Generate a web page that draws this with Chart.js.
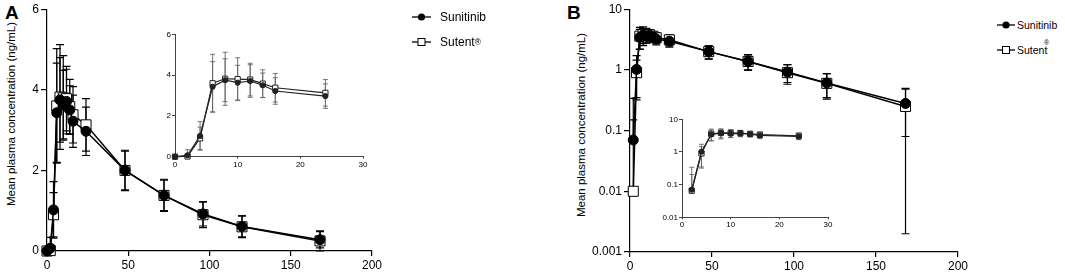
<!DOCTYPE html>
<html>
<head>
<meta charset="utf-8">
<script src="https://cdn.jsdelivr.net/npm/chart.js@4.4.1/dist/chart.umd.min.js"></script>
<style>
  body { margin: 0; width: 1065px; height: 272px; position: relative; overflow: hidden; background: #fff;
         font-family: "Liberation Sans", Arial, sans-serif; color: #000; }
  canvas, .abs { position: absolute; }
  .panel { font-weight: bold; font-size: 19px; line-height: 1; }
  .ytitle { font-size: 11.5px; white-space: nowrap; transform: translate(-50%, -50%) rotate(-90deg); }
  .leg { display: flex; align-items: center; white-space: nowrap; line-height: 1; }
  .leg svg { margin-right: 9px; }
  sup { font-size: 0.7em; }
</style>
</head>
<body>
<div class="abs panel" style="left:5px; top:3px;">A</div>
<div class="abs panel" style="left:567px; top:3px;">B</div>
<div class="abs ytitle" style="left:11px; top:114px;">Mean plasma concentration (ng/mL)</div>
<div class="abs ytitle" style="left:581px; top:125px;">Mean plasma concentration (ng/mL)</div>

<canvas id="mainA" width="400" height="272" style="left:0; top:0;"></canvas>
<canvas id="insetA" width="230" height="150" style="left:150px; top:20px;"></canvas>
<canvas id="mainB" width="420" height="272" style="left:570px; top:0;"></canvas>
<canvas id="insetB" width="190" height="125" style="left:655px; top:105px;"></canvas>

<div class="abs leg" style="left:412px; top:11px; font-size:12px;">
  <svg width="19" height="10"><line x1="0" y1="5" x2="19" y2="5" stroke="#000" stroke-width="1.3"/><circle cx="9.5" cy="5" r="3.6" fill="#000"/></svg>Sunitinib
</div>
<div class="abs leg" style="left:412px; top:36px; font-size:12px;">
  <svg width="19" height="10"><line x1="0" y1="5" x2="19" y2="5" stroke="#000" stroke-width="1.3"/><rect x="6" y="1.5" width="7" height="7" fill="#fff" stroke="#000" stroke-width="1"/></svg>Sutent<sup>®</sup>
</div>
<div class="abs leg" style="left:997px; top:20px; font-size:10.5px;">
  <svg width="18" height="10" style="margin-right:2px"><line x1="0" y1="5" x2="18" y2="5" stroke="#000" stroke-width="1.3"/><circle cx="9" cy="5" r="3.6" fill="#000"/></svg>Sunitinib
</div>
<div class="abs leg" style="left:997px; top:45px; font-size:10.5px;">
  <svg width="18" height="10" style="margin-right:2px"><line x1="0" y1="5" x2="18" y2="5" stroke="#000" stroke-width="1.3"/><rect x="5.5" y="1.5" width="7" height="7" fill="#fff" stroke="#000" stroke-width="1"/></svg>Sutent
</div>
<div class="abs" style="left:1044px; top:39px; font-size:7px;">®</div>

<script>
// sampling times (h) and mean ± SD plasma concentrations (ng/mL)
const timesH = [0, 2, 4, 6, 8, 10, 12, 14, 16, 24, 48, 72, 96, 120, 168];
const sunitinibMean = [0, 0.07, 1.02, 3.43, 3.75, 3.63, 3.71, 3.5, 3.22, 2.97, 2.0, 1.38, 0.92, 0.61, 0.28];
const sunitinibSD   = [0, 0.27, 0.7, 1.23, 1.05, 0.85, 0.8, 0.6, 0.65, 0.6, 0.5, 0.38, 0.3, 0.26, 0.2];
const sutentMean    = [0, 0.01, 0.9, 3.6, 3.82, 3.8, 3.78, 3.58, 3.38, 3.13, 2.0, 1.38, 0.9, 0.6, 0.25];
const sutentSD      = [0, 0.14, 0.55, 1.42, 1.3, 1.05, 0.8, 0.68, 0.7, 0.65, 0.48, 0.4, 0.32, 0.27, 0.248];
// the log inset shows a different 2 h value for Sutent
const sutentMeanInsetB = [0, 0.065, 0.9, 3.6, 3.82, 3.8, 3.78, 3.58, 3.38, 3.13, 2.0, 1.38, 0.9, 0.6, 0.25];

const xTicksMain = [0, 50, 100, 150, 200];
const xTicksInset = [0, 10, 20, 30];
const yTicksLinear = [0, 2, 4, 6];
const yTicksLogMain = [0.001, 0.01, 0.1, 1, 10];
const yTicksLogInset = [0.01, 0.1, 1, 10];

const FONT = '"Liberation Sans", Arial, sans-serif';

// SD whiskers, drawn under the markers
const errorBars = {
  id: 'errorBars',
  beforeDatasetsDraw(chart, args, opts) {
    const { ctx, scales: { x, y } } = chart;
    ctx.save();
    ctx.strokeStyle = opts.color;
    ctx.lineWidth = opts.width;
    chart.data.datasets.forEach(ds => {
      ds.data.forEach(p => {
        if (!p.sd) return;
        const px = x.getPixelForValue(p.x);
        const py = y.getPixelForValue(p.y);
        const hi = y.getPixelForValue(p.y + p.sd);
        ctx.beginPath();
        ctx.moveTo(px, py); ctx.lineTo(px, hi);
        ctx.moveTo(px - opts.cap, hi); ctx.lineTo(px + opts.cap, hi);
        const low = p.y - p.sd;
        if (low > 0 || y.type !== 'logarithmic') {
          const lo = y.getPixelForValue(Math.max(low, y.min));
          ctx.moveTo(px, py); ctx.lineTo(px, lo);
          if (low >= y.min) { ctx.moveTo(px - opts.cap, lo); ctx.lineTo(px + opts.cap, lo); }
        }
        ctx.stroke();
      });
    });
    ctx.restore();
  }
};

function points(means, sds, maxT, log) {
  const out = [];
  timesH.forEach((t, i) => {
    if (t > maxT) return;
    if (log && means[i] <= 0) return;
    out.push({ x: t, y: means[i], sd: sds[i] });
  });
  return out;
}

function build(id, o) {
  new Chart(document.getElementById(id), {
    type: 'line',
    data: {
      datasets: [{
        label: 'Sunitinib',
        data: points(o.sun, sunitinibSD, o.maxT, o.log),
        borderColor: o.line, borderWidth: o.lw,
        pointStyle: 'circle', pointRadius: o.r,
        pointBackgroundColor: o.line, pointBorderColor: o.line, pointBorderWidth: 1,
        tension: 0, clip: false
      }, {
        label: 'Sutent',
        data: points(o.sut, sutentSD, o.maxT, o.log),
        borderColor: o.line, borderWidth: o.lw,
        pointStyle: 'rect', pointRadius: o.r * 1.42,
        pointBackgroundColor: '#fff', pointBorderColor: o.line, pointBorderWidth: 1,
        tension: 0, clip: false
      }]
    },
    options: {
      responsive: false,
      animation: false,
      events: [],
      layout: { padding: o.pad },
      plugins: {
        legend: { display: false },
        tooltip: { enabled: false },
        errorBars: { color: o.err, width: o.ew, cap: o.cap }
      },
      scales: {
        x: {
          type: 'linear', min: o.xMin, max: o.xMax,
          afterBuildTicks: s => { s.ticks = o.xt.map(v => ({ value: v })); },
          afterFit: s => { s.height = o.xh; },
          grid: { drawOnChartArea: false, tickLength: o.tl, color: o.axis, lineWidth: o.aw },
          border: { color: o.axis, width: o.aw },
          ticks: { font: { family: FONT, size: o.fs }, color: '#000', padding: o.tp, maxRotation: 0, autoSkip: false }
        },
        y: {
          type: o.log ? 'logarithmic' : 'linear', min: o.yMin, max: o.yMax,
          afterBuildTicks: s => { s.ticks = o.yt.map(v => ({ value: v })); },
          afterFit: s => { s.width = o.yw; },
          grid: { drawOnChartArea: false, tickLength: o.tl + 1, color: o.axis, lineWidth: o.aw },
          border: { color: o.axis, width: o.aw },
          ticks: { font: { family: FONT, size: o.fs }, color: '#000', padding: o.tp, autoSkip: false,
                   callback: v => String(v) }
        }
      }
    },
    plugins: [errorBars]
  });
}

const mainStyle = { line: '#000', lw: 1.5, r: 5, err: '#000', ew: 1.2, cap: 4, axis: '#000', aw: 1.2, fs: 12, tl: 5, tp: 2 };
const insetStyle = { line: '#222', lw: 1.2, r: 2.6, err: '#666', ew: 0.9, cap: 2.5, axis: '#444', aw: 1, fs: 8, tl: 2, tp: 1 };

build('mainA', Object.assign({}, mainStyle, {
  sun: sunitinibMean, sut: sutentMean, maxT: 200, log: false,
  xMin: 0, xMax: 200, xt: xTicksMain, yMin: 0, yMax: 6, yt: yTicksLinear,
  yw: 47, xh: 21, pad: { left: 0, top: 8, right: 28, bottom: 0 }
}));
build('insetA', Object.assign({}, insetStyle, {
  sun: sunitinibMean, sut: sutentMean, maxT: 30, log: false,
  xMin: 0, xMax: 30, xt: xTicksInset, yMin: 0, yMax: 6, yt: yTicksLinear,
  yw: 25, xh: 13.3, pad: { left: 0, top: 14.3, right: 17, bottom: 0 }
}));
build('mainB', Object.assign({}, mainStyle, {
  sun: sunitinibMean, sut: sutentMean, maxT: 200, log: true,
  xMin: 0, xMax: 200, xt: xTicksMain, yMin: 0.001, yMax: 10, yt: yTicksLogMain,
  yw: 60, xh: 20, pad: { left: 0, top: 9, right: 32, bottom: 0 }
}));
build('insetB', Object.assign({}, insetStyle, {
  sun: sunitinibMean, sut: sutentMeanInsetB, maxT: 30, log: true,
  xMin: 0, xMax: 30, xt: xTicksInset, yMin: 0.01, yMax: 10, yt: yTicksLogInset,
  yw: 27, xh: 12.7, pad: { left: 0, top: 14.3, right: 17, bottom: 0 }
}));
</script>
</body>
</html>
